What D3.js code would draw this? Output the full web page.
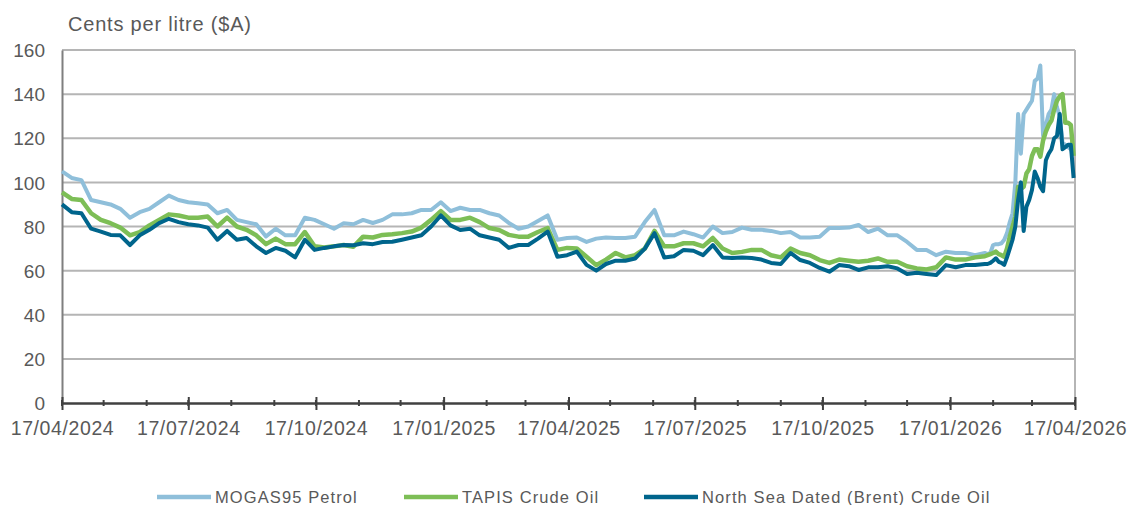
<!DOCTYPE html>
<html>
<head>
<meta charset="utf-8">
<script src="https://cdn.jsdelivr.net/npm/d3@7"></script>
<style>
  body { margin: 0; background: #fff; }
  svg { font-family: "Liberation Sans", Arial, sans-serif; }
</style>
</head>
<body>
<div id="viz"></div>
<script>
// weekly points, then every 2 days from 11/02/2026
const startDate = new Date(2024, 3, 17);
const switchDate = new Date(2026, 1, 11);
const endDate = new Date(2026, 3, 18);
const dates = d3.timeDay.range(startDate, switchDate, 7)
  .concat(d3.timeDay.range(switchDate, endDate, 2));

const mogas = [
  105, 102, 101, 92, 91, 90, 88, 84, 86.5, 88,
  91, 94, 92, 91, 90.5, 90, 86, 87.5, 83, 82,
  81, 75.5, 79, 76, 76, 84, 83, 81, 79, 81.5,
  81, 83, 81.6, 83, 85.5, 85.5, 86, 87.5, 87.5, 91,
  87, 88.5, 87.5, 87.5, 86, 85, 81.6, 79, 80, 82.5,
  85, 74, 74.8, 75, 73, 74.5, 75, 74.8, 74.8, 75.4,
  82, 87.5, 76, 76, 77.7, 76.5, 75, 80, 77, 77.5,
  79.5, 78.5, 78.5, 78, 77, 77.5, 75, 75, 75.4, 79.3,
  79.3, 79.5, 80.7, 77.5, 79, 76, 76, 73, 69.4, 69.4,
  67, 68.6, 68, 68, 67,
  68, 67.5, 68, 71.6, 72, 72, 72.4, 74, 77, 82,
  86, 100, 131, 113, 131, 133, 135, 137, 146, 147,
  153, 121, 126, 131, 133, 140, 134, 130, 118, 117,
  116, 115, 113
];

const tapis = [
  95.5, 92.5, 92, 86, 83, 81.5, 79.5, 76, 77.5, 80.5,
  83, 85.5, 85, 84, 84, 84.5, 80, 84, 80, 78.5,
  76, 72, 74.5, 72, 72, 77.5, 71, 70.5, 71, 71.6,
  70.8, 75.4, 75, 76.2, 76.5, 77, 77.7, 79.5, 83, 87,
  83, 83, 84, 82, 79.3, 78.4, 76.2, 75.4, 75.4, 77.5,
  79.3, 69.4, 70.3, 70, 66.3, 62.5, 65, 68, 66, 67,
  70, 78, 71, 71, 72.4, 72.4, 71, 74.8, 70, 68,
  68.5, 69.4, 69.4, 67, 66, 70, 68, 67, 64.8, 63.5,
  65, 64.5, 64, 64.5, 65.5, 64, 64, 62, 61, 60.5,
  61.5, 66, 65, 65, 66,
  66.5, 67, 67.5, 68, 68.6, 67.5, 67, 66.3, 70, 75.4,
  80, 84.5, 98, 97, 98, 104, 106, 112, 115, 115,
  111.7, 119, 123, 126, 128, 133, 137, 139, 140, 127,
  127, 126, 112
];

const brent = [
  90, 86.5, 86, 79, 77.7, 76.2, 76, 71.6, 76, 78.5,
  81.5, 83.5, 82, 81, 80.5, 79.5, 74, 78, 74, 74.8,
  71, 68, 70.3, 69, 66, 74, 69.4, 70.3, 71, 71.6,
  71.5, 72.4, 72, 73, 73.1, 74, 75, 76, 80, 85,
  80.5, 78.4, 79, 76, 75, 74, 70.3, 71.6, 71.6, 74.5,
  77.7, 66.3, 67, 68.6, 62.6, 60, 63, 64.5, 64.5, 65.5,
  70, 77, 66, 66.5, 69.4, 69, 67, 71.6, 66, 65.7,
  66, 65.7, 65, 63.5, 63, 68, 64.8, 63.5, 61.2, 59.5,
  62.5, 62, 60.3, 61.5, 61.5, 62, 61, 58.5, 59, 58.5,
  58, 62.5, 61.5, 62.5, 62.5,
  63, 63, 63.5, 64.5, 65.6, 64, 63.5, 62.6, 66, 70,
  74, 80, 92, 100, 78, 89, 92, 96.6, 104.9, 102,
  98, 96, 110, 113, 115, 120, 121, 131, 115, 116,
  117, 117, 102
];

const seriesNames = ["MOGAS95 Petrol", "TAPIS Crude Oil", "North Sea Dated (Brent) Crude Oil"];
const seriesColors = ["#8fbfda", "#7dbe56", "#00658c"];
const yTicks = [0, 20, 40, 60, 80, 100, 120, 140, 160];
const xTickDates = [
  new Date(2024, 3, 17), new Date(2024, 6, 17), new Date(2024, 9, 17),
  new Date(2025, 0, 17), new Date(2025, 3, 17), new Date(2025, 6, 17),
  new Date(2025, 9, 17), new Date(2026, 0, 17), new Date(2026, 3, 17)
];

const W = 1129, H = 505;
const margin = { top: 50, right: 54, bottom: 102, left: 62 };
const width = W - margin.left - margin.right;
const height = H - margin.top - margin.bottom;
const textColor = "#595959";

const svg = d3.select("#viz").append("svg")
  .attr("width", W)
  .attr("height", H);

const x = d3.scaleTime()
  .domain([new Date(2024, 3, 17), new Date(2026, 3, 17)])
  .range([0, width]);

const y = d3.scaleLinear()
  .domain([0, 160])
  .range([height, 0]);

const g = svg.append("g").attr("transform", `translate(${margin.left},${margin.top})`);

// gridlines
g.append("g")
 .selectAll("line")
 .data(yTicks.filter(d => d > 0))
 .enter()
 .append("line")
 .attr("x1", 0)
 .attr("x2", width)
 .attr("y1", d => y(d))
 .attr("y2", d => y(d))
 .attr("stroke", "#b5b5b5")
 .attr("stroke-width", 2);

// right border
g.append("line")
 .attr("x1", width).attr("x2", width)
 .attr("y1", 0).attr("y2", height)
 .attr("stroke", "#b5b5b5")
 .attr("stroke-width", 2);

// left axis
const yAxis = g.append("g")
  .call(d3.axisLeft(y).tickValues(yTicks).tickSize(0).tickPadding(17));
yAxis.select(".domain").attr("stroke", "#7f7f7f").attr("stroke-width", 2);
yAxis.selectAll("text")
  .style("font-size", "19px")
  .attr("fill", textColor)
  .attr("dy", "0.35em");

// series
const line = d3.line()
  .x((d, i) => x(dates[i]))
  .y(d => y(d));

const allSeries = [mogas, tapis, brent];
const widths = [4, 4.5, 4];
g.selectAll("path.series")
 .data(allSeries)
 .enter()
 .append("path")
 .attr("class", "series")
 .attr("d", d => line(d))
 .attr("fill", "none")
 .attr("stroke", (d, i) => seriesColors[i])
 .attr("stroke-width", (d, i) => widths[i])
 .attr("stroke-linejoin", "round");

// bottom axis: minor monthly ticks
const minorDates = d3.timeMonth.range(new Date(2024, 3, 1), new Date(2026, 3, 2))
  .map(d => new Date(d.getFullYear(), d.getMonth(), 17));

const xAxisG = g.append("g").attr("transform", `translate(0,${height})`);
xAxisG.selectAll("line.minor")
  .data(minorDates)
  .enter()
  .append("line")
  .attr("x1", d => x(d)).attr("x2", d => x(d))
  .attr("y1", -3).attr("y2", 3)
  .attr("stroke", "#404040")
  .attr("stroke-width", 2);

const xAxis = xAxisG.call(
  d3.axisBottom(x)
    .tickValues(xTickDates)
    .tickFormat(d3.timeFormat("%d/%m/%Y"))
    .tickSizeInner(7)
    .tickSizeOuter(0)
    .tickPadding(11)
);
xAxis.select(".domain").attr("stroke", "#404040").attr("stroke-width", 2.5);
xAxis.selectAll(".tick line")
  .attr("y1", -6)
  .attr("stroke", "#404040")
  .attr("stroke-width", 2);
xAxis.selectAll(".tick text")
  .style("font-size", "19.5px")
  .style("letter-spacing", "0.6px")
  .attr("fill", textColor);

// y axis title
svg.append("text")
  .attr("x", 68)
  .attr("y", 31)
  .text("Cents per litre ($A)")
  .style("font-size", "20px")
  .style("letter-spacing", "0.8px")
  .attr("fill", textColor);

// legend
const legendX = [157, 404, 644];
const legend = svg.append("g").attr("transform", "translate(0,497)");
legend.selectAll("line")
  .data(seriesNames)
  .enter()
  .append("line")
  .attr("x1", (d, i) => legendX[i])
  .attr("x2", (d, i) => legendX[i] + 54)
  .attr("y1", 0).attr("y2", 0)
  .attr("stroke", (d, i) => seriesColors[i])
  .attr("stroke-width", 4.5);
legend.selectAll("text")
  .data(seriesNames)
  .enter()
  .append("text")
  .attr("x", (d, i) => legendX[i] + 58)
  .attr("y", 6)
  .text(d => d)
  .style("font-size", "16.5px")
  .style("letter-spacing", "1.1px")
  .attr("fill", textColor);
</script>
</body>
</html>
